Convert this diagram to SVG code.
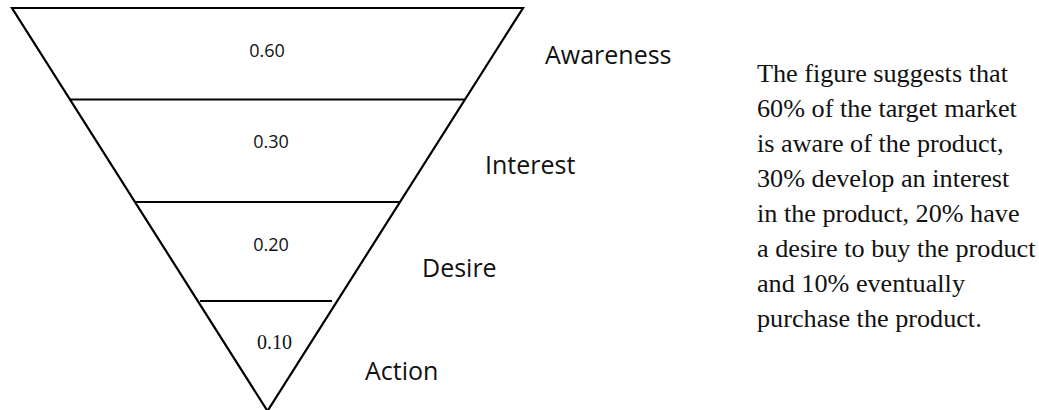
<svg xmlns="http://www.w3.org/2000/svg" width="1039" height="410" viewBox="0 0 1039 410">
  <style>
    .edge { stroke: #000; stroke-width: 2.2; fill: none; stroke-linecap: butt; }
    .num { font-family: "Open Sans", "Liberation Sans", sans-serif; font-size: 18px; fill: #111; text-anchor: middle; }
    .numserif { font-family: "Liberation Serif", serif; font-size: 20px; fill: #111; text-anchor: middle; }
    .stage { font-family: "Open Sans", "Liberation Sans", sans-serif; font-size: 25px; fill: #111; }
    .desc { font-family: "Liberation Serif", "Times New Roman", serif; font-size: 26.2px; fill: #111; }
  </style>
  <rect width="1039" height="410" fill="#fff"/>
  <g id="connectors">
    <polygon class="edge" points="12,8 523,8 267.5,411" stroke-linejoin="miter"/>
    <line class="edge" x1="70" y1="99.5" x2="465" y2="99.5"/>
    <line class="edge" x1="135" y1="202" x2="400" y2="202"/>
    <line class="edge" x1="200" y1="301" x2="332" y2="301"/>
  </g>
  <g id="node-awareness">
    <text class="num" x="267" y="57">0.60</text>
    <text class="stage" x="545" y="64">Awareness</text>
  </g>
  <g id="node-interest">
    <text class="num" x="271" y="148">0.30</text>
    <text class="stage" x="485" y="174">Interest</text>
  </g>
  <g id="node-desire">
    <text class="num" x="271" y="251">0.20</text>
    <text class="stage" x="422" y="277">Desire</text>
  </g>
  <g id="node-action">
    <text class="numserif" x="274.5" y="349">0.10</text>
    <text class="stage" x="365" y="380">Action</text>
  </g>
  <g id="description">
    <text class="desc" x="757" y="82">The figure suggests that</text>
    <text class="desc" x="757" y="117">60% of the target market</text>
    <text class="desc" x="757" y="152">is aware of the product,</text>
    <text class="desc" x="757" y="187">30% develop an interest</text>
    <text class="desc" x="757" y="222">in the product, 20% have</text>
    <text class="desc" x="757" y="257">a desire to buy the product</text>
    <text class="desc" x="757" y="292">and 10% eventually</text>
    <text class="desc" x="757" y="327">purchase the product.</text>
  </g>
</svg>
